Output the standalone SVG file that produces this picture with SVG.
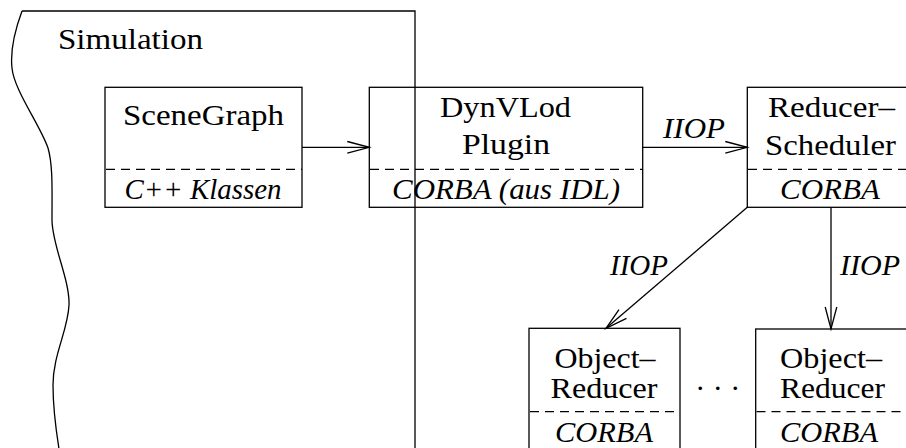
<svg xmlns="http://www.w3.org/2000/svg" width="906" height="448" viewBox="0 0 906 448">
  <style>
    .ln { fill: none; stroke: #000; stroke-width: 1.3; }
    .box { fill: none; stroke: #000; stroke-width: 1.3; }
    .sep { fill: none; stroke: #000; stroke-width: 1.3; stroke-dasharray: 9 6; }
    .con { fill: none; stroke: #000; stroke-width: 1.3; marker-end: url(#open); }
    text { font-family: "Liberation Serif", "Times New Roman", serif; font-size: 30px; fill: #000; }
    .c { text-anchor: middle; }
    .i { font-style: italic; }
  </style>
  <defs>
    <marker id="open" markerUnits="userSpaceOnUse" markerWidth="30" markerHeight="20" refX="0" refY="0" viewBox="-24 -10 28 20" orient="auto" overflow="visible">
      <path d="M-22,-5.8 L0,0 L-22,5.8" fill="none" stroke="#000" stroke-width="1.3"/>
    </marker>
  </defs>
  <rect width="906" height="448" fill="#fff"/>

  <!-- Simulation region: wavy left border, top edge and right edge -->
  <g id="simulation">
    <path class="ln" d="M22,11 C15,30 10,50 12,68 C14,90 40,125 48,148 C53,165 52,190 52,220 C52,245 70,280 69,305 C68,330 53,355 53,385 C53,410 56,430 59,449"/>
    <path class="ln" d="M22,11 L415,11 L415,449"/>
    <text x="58" y="49" textLength="145" lengthAdjust="spacingAndGlyphs">Simulation</text>
  </g>

  <g id="scenegraph">
    <rect class="box" x="105" y="87.3" width="197" height="120"/>
    <line class="sep" x1="106" y1="169.3" x2="302" y2="169.3"/>
    <text class="c" x="203.5" y="125" textLength="161" lengthAdjust="spacingAndGlyphs">SceneGraph</text>
    <text class="c i" x="203" y="199" textLength="157" lengthAdjust="spacingAndGlyphs">C++ Klassen</text>
  </g>

  <g id="dynvlod">
    <rect class="box" x="369.3" y="87.3" width="273.4" height="120"/>
    <line class="sep" x1="370" y1="169.3" x2="642.7" y2="169.3"/>
    <text class="c" x="505.5" y="116.7" textLength="131" lengthAdjust="spacingAndGlyphs">DynVLod</text>
    <text class="c" x="506" y="154" textLength="88" lengthAdjust="spacingAndGlyphs">Plugin</text>
    <text class="c i" x="506" y="199" textLength="228" lengthAdjust="spacingAndGlyphs">CORBA (aus IDL)</text>
  </g>

  <g id="reducer-scheduler">
    <rect class="box" x="747.3" y="87.3" width="168" height="120"/>
    <line class="sep" x1="748" y1="169.3" x2="915" y2="169.3"/>
    <text class="c" x="831.5" y="117.3" textLength="127" lengthAdjust="spacingAndGlyphs">Reducer–</text>
    <text class="c" x="830.5" y="155" textLength="131" lengthAdjust="spacingAndGlyphs">Scheduler</text>
    <text class="c i" x="830" y="199" textLength="100" lengthAdjust="spacingAndGlyphs">CORBA</text>
  </g>

  <g id="object-reducer-1">
    <rect class="box" x="529" y="328.3" width="151" height="140"/>
    <line class="sep" x1="530" y1="411.7" x2="680" y2="411.7"/>
    <text class="c" x="605" y="368.3" textLength="101" lengthAdjust="spacingAndGlyphs">Object–</text>
    <text class="c" x="604" y="398.3" textLength="107" lengthAdjust="spacingAndGlyphs">Reducer</text>
    <text class="c i" x="604" y="441.7" textLength="98" lengthAdjust="spacingAndGlyphs">CORBA</text>
  </g>

  <g id="object-reducer-2">
    <rect class="box" x="755.7" y="329" width="151" height="140"/>
    <line class="sep" x1="756.5" y1="411.7" x2="906.7" y2="411.7"/>
    <text class="c" x="831" y="368.3" textLength="102" lengthAdjust="spacingAndGlyphs">Object–</text>
    <text class="c" x="832.5" y="398.3" textLength="105" lengthAdjust="spacingAndGlyphs">Reducer</text>
    <text class="c i" x="829" y="441.7" textLength="98" lengthAdjust="spacingAndGlyphs">CORBA</text>
  </g>

  <g id="ellipsis">
    <text class="c" x="717.7" y="398">· · ·</text>
  </g>

  <g id="connectors">
    <path class="con" d="M302,147.3 L369.3,147.3"/>
    <path class="con" d="M642.7,147.3 L747.3,147.3"/>
    <path class="con" d="M747.3,207.3 L606,328.3"/>
    <path class="con" d="M831,207.3 L831,329"/>
    <text class="c i" x="694" y="138" textLength="62" lengthAdjust="spacingAndGlyphs">IIOP</text>
    <text class="c i" x="639" y="275" textLength="58" lengthAdjust="spacingAndGlyphs">IIOP</text>
    <text class="c i" x="870" y="275" textLength="60" lengthAdjust="spacingAndGlyphs">IIOP</text>
  </g>
</svg>
